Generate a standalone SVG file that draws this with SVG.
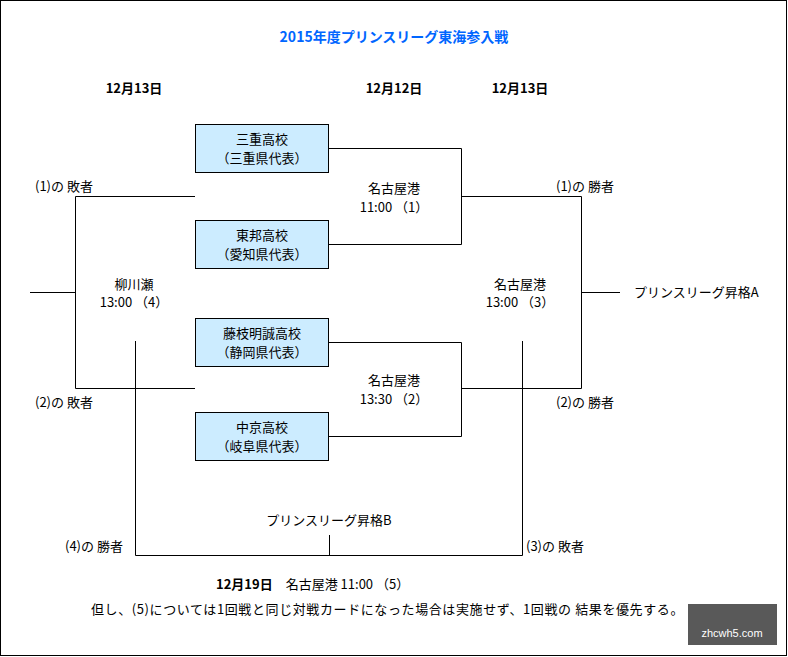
<svg xmlns="http://www.w3.org/2000/svg" width="788" height="657" viewBox="0 0 788 657">
<style>
text{font-family:"Noto Sans CJK JP","Liberation Sans",sans-serif;font-size:13px;fill:#000}
.b{font-weight:bold}
.c{text-anchor:middle}
.box{fill:#CCECFF;stroke:#000;stroke-width:1}
#connectors path{fill:none;stroke:#000;stroke-width:1}
</style>
<rect x="0.5" y="0.5" width="786" height="655" fill="#fff" stroke="#000"/>
<text x="394" y="42" class="b c" style="fill:#0066FF;font-size:14px">2015年度プリンスリーグ東海参入戦</text>
<text x="134" y="93" class="b c">12月13日</text>
<text x="394" y="93" class="b c">12月12日</text>
<text x="520" y="93" class="b c">12月13日</text>
<g id="connectors">
<path d="M328 148.5H461.5V244.5H328M328 342.5H461.5V436.5H328M461.5 196.5H581.5V388.5H461.5M581.5 292.5H620M195 196.5H75.5V388.5H195M30 292.5H75.5M135.5 341V555.5H522.5V341M329.5 535V555.5"/>
</g>
<g id="n1"><rect class="box" x="195.5" y="124.5" width="133" height="48"/><text x="262" y="144" class="c">三重高校</text><text x="262" y="163" class="c">（三重県代表）</text></g>
<g id="n2"><rect class="box" x="195.5" y="220.5" width="133" height="48"/><text x="262" y="240" class="c">東邦高校</text><text x="262" y="259" class="c">（愛知県代表）</text></g>
<g id="n3"><rect class="box" x="195.5" y="318.5" width="133" height="48"/><text x="262" y="338" class="c">藤枝明誠高校</text><text x="262" y="357" class="c">（静岡県代表）</text></g>
<g id="n4"><rect class="box" x="195.5" y="412.5" width="133" height="48"/><text x="262" y="432" class="c">中京高校</text><text x="262" y="451" class="c">（岐阜県代表）</text></g>
<g id="labels">
<text x="35" y="191">(1)の 敗者</text>
<text x="35" y="407">(2)の 敗者</text>
<text x="556" y="191">(1)の 勝者</text>
<text x="556" y="407">(2)の 勝者</text>
<text x="394" y="193" class="c">名古屋港</text><text x="394" y="212" class="c">11:00 （1）</text>
<text x="394" y="385" class="c">名古屋港</text><text x="394" y="404" class="c">13:30 （2）</text>
<text x="134" y="289" class="c">柳川瀬</text><text x="134" y="307" class="c">13:00 （4）</text>
<text x="520" y="289" class="c">名古屋港</text><text x="520" y="307" class="c">13:00 （3）</text>
<text x="634" y="297">プリンスリーグ昇格A</text>
<text x="329" y="525" class="c">プリンスリーグ昇格B</text>
<text x="65" y="551">(4)の 勝者</text>
<text x="526" y="551">(3)の 敗者</text>
<text x="216" y="589"><tspan class="b">12月19日</tspan>　名古屋港  11:00 （5）</text>
<text x="91" y="614" style="letter-spacing:0.6px">但し、(5)については1回戦と同じ対戦カードになった場合は実施せず、1回戦の 結果を優先する。</text>
</g>
<rect x="688" y="604" width="89" height="41" fill="#595959"/>
<text x="732" y="637" class="c" style="fill:#fff;font-size:11px;font-family:'Liberation Sans',sans-serif">zhcwh5.com</text>
</svg>
